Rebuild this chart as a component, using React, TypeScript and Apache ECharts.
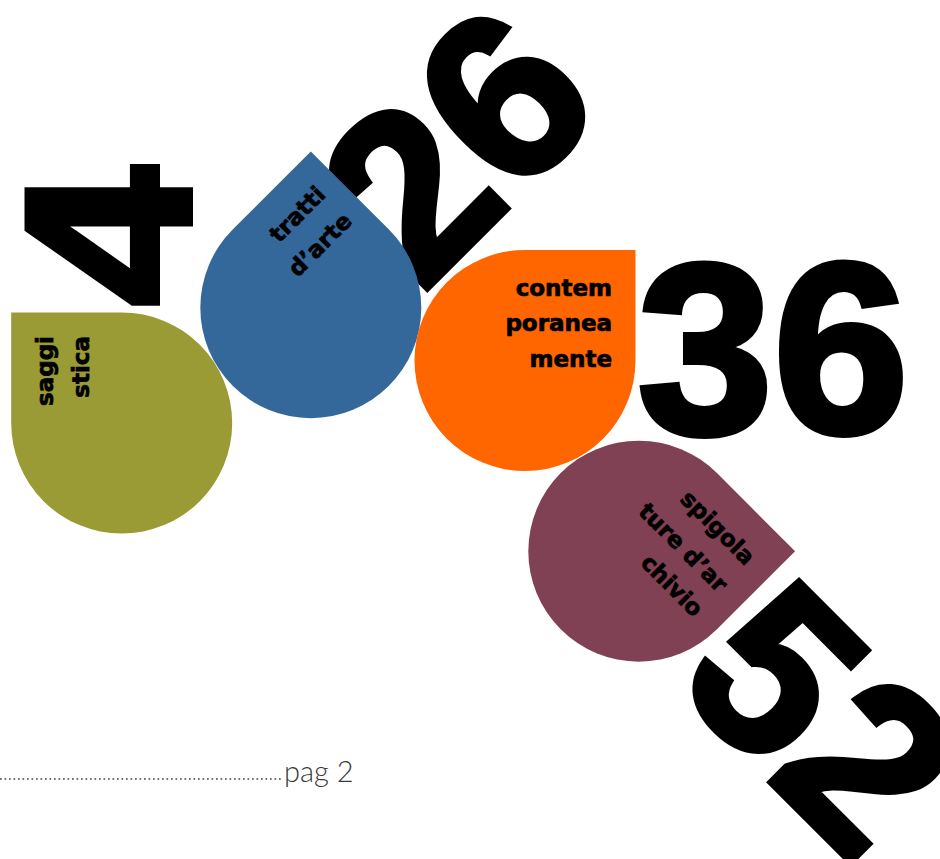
import React, { useEffect, useRef } from "react";
import * as echarts from "echarts";

// ---- content ----
const PAGE_NUMBERS = ["4", "26", "36", "52"];
const SECTION_LINES = [
  ["saggi", "stica"],
  ["tratti", "d’arte"],
  ["contem", "poranea", "mente"],
  ["spigola", "ture d’ar", "chivio"],
];
const DROP_COLORS = ["#9b9b36", "#34679a", "#ff6600", "#7f4153"];
const FOOTER_LABEL = "pag 2";

// ---- layout ----
const R = 110.5;
const DROP_CENTERS = [
  [121.7, 423],
  [310.8, 307.7],
  [525, 360.5],
  [638.8, 551.2],
];
const DROP_ROT = [0, -Math.PI / 4, -Math.PI / 2, (-3 * Math.PI) / 4];
const NUM_POS = [
  [108.7, 236],
  [456.4, 143.7],
  [773, 348.5],
  [822.6, 718.4],
];
const NUM_ROT = [Math.PI / 2, Math.PI / 4, 0, -Math.PI / 4];
const NUM_SIZE = [236, 236, 244, 236];
const NUM_SCALE_X = [1.07, 1, 1, 1];
const LABEL_POS = [
  [
    [45.2, 336],
    [81.2, 336],
  ],
  [
    [321.1, 190.3],
    [347.6, 216.8],
  ],
  [
    [612, 288.2],
    [612, 323.2],
    [612, 359.2],
  ],
  [
    [751, 560.7],
    [723.8, 587.9],
    [699.2, 612.5],
  ],
];

const dropPath = `M ${-R} ${-R} L 0 ${-R} A ${R} ${R} 0 0 1 ${R} 0 A ${R} ${R} 0 0 1 0 ${R} A ${R} ${R} 0 0 1 ${-R} 0 Z`;
echarts.graphic.registerShape("drop", echarts.graphic.extendPath(dropPath, {}));

export default function App() {
  const ref = useRef<HTMLDivElement>(null);
  useEffect(() => {
    document.body.style.margin = "0";
    const chart = echarts.init(ref.current!, undefined, { renderer: "svg" });
    const elements: any[] = [];
    PAGE_NUMBERS.forEach((n, i) => {
      elements.push({
        type: "text",
        x: NUM_POS[i][0],
        y: NUM_POS[i][1],
        rotation: NUM_ROT[i],
        scaleX: NUM_SCALE_X[i],
        z: 1,
        style: {
          text: n,
          fill: "#000",
          stroke: "#000",
          lineWidth: 6,
          fontFamily: "'Liberation Sans', Arial, sans-serif",
          fontWeight: "bold",
          fontSize: NUM_SIZE[i],
          align: "center",
          verticalAlign: "middle",
        },
      });
    });
    DROP_COLORS.forEach((c, i) => {
      elements.push({
        type: "drop",
        x: DROP_CENTERS[i][0],
        y: DROP_CENTERS[i][1],
        rotation: DROP_ROT[i],
        z: 2,
        style: { fill: c },
      });
    });
    SECTION_LINES.forEach((lines, i) => {
      lines.forEach((t, j) => {
        elements.push({
          type: "text",
          x: LABEL_POS[i][j][0],
          y: LABEL_POS[i][j][1],
          rotation: NUM_ROT[i],
          z: 3,
          style: {
            text: t,
            fill: "#000",
            stroke: "#000",
            lineWidth: 0.7,
            fontFamily: "'DejaVu Sans', sans-serif",
            fontWeight: "bold",
            fontSize: 23,
            align: "right",
            verticalAlign: "middle",
          },
        });
      });
    });
    elements.push({
      type: "line",
      z: 1,
      shape: { x1: 0, y1: 779, x2: 281, y2: 779 },
      style: { stroke: "#444", lineWidth: 1.7, lineDash: [1.7, 2.8] },
    });
    elements.push({
      type: "text",
      x: 284,
      y: 770.7,
      z: 1,
      style: {
        text: FOOTER_LABEL,
        fill: "#3a3a3a",
        fontFamily: "Lato, sans-serif",
        fontWeight: 300,
        fontSize: 29,
        align: "left",
        verticalAlign: "middle",
      },
    });
    chart.setOption({ animation: false, graphic: { elements } });
    return () => chart.dispose();
  }, []);
  return <div ref={ref} style={{ width: 940, height: 859 }} />;
}
